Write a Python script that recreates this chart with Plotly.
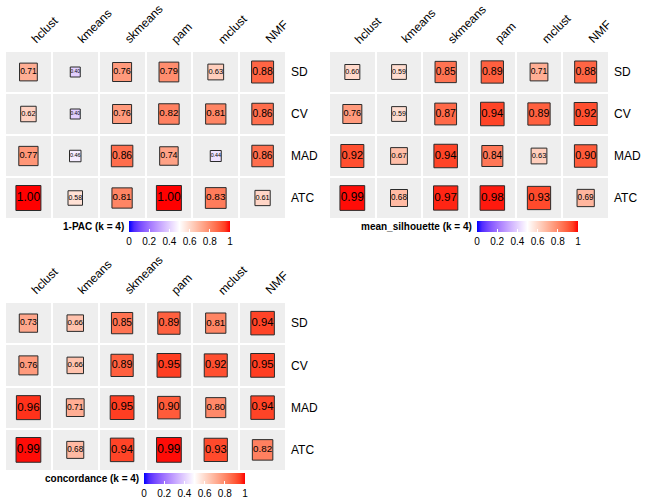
import plotly.graph_objects as go
import numpy as np

methods = ["hclust", "kmeans", "skmeans", "pam", "mclust", "NMF"]
features = ["SD", "CV", "MAD", "ATC"]

pac_values = [
    [0.71, 0.40, 0.76, 0.79, 0.63, 0.88],
    [0.62, 0.40, 0.76, 0.82, 0.81, 0.86],
    [0.77, 0.46, 0.86, 0.74, 0.44, 0.86],
    [1.00, 0.58, 0.81, 1.00, 0.83, 0.61],
]
silhouette_values = [
    [0.60, 0.59, 0.85, 0.89, 0.71, 0.88],
    [0.76, 0.59, 0.87, 0.94, 0.89, 0.92],
    [0.92, 0.67, 0.94, 0.84, 0.63, 0.90],
    [0.99, 0.68, 0.97, 0.98, 0.93, 0.69],
]
concordance_values = [
    [0.73, 0.66, 0.85, 0.89, 0.81, 0.94],
    [0.76, 0.66, 0.89, 0.95, 0.92, 0.95],
    [0.96, 0.71, 0.95, 0.90, 0.80, 0.94],
    [0.99, 0.68, 0.94, 0.99, 0.93, 0.82],
]
panel_titles = ["1-PAC (k = 4)", "mean_silhouette (k = 4)", "concordance (k = 4)"]
cbar_ticks = [0, 0.2, 0.4, 0.6, 0.8, 1]

W, H = 648, 504
FONT = "Liberation Sans, Arial, Helvetica, sans-serif"


# ---- LAB-interpolated blue-white-red colour scale ----
def srgb_to_lin(c):
    c = c / 255.0
    return np.where(c <= 0.04045, c / 12.92, ((c + 0.055) / 1.055) ** 2.4)


def lin_to_srgb(c):
    c = np.clip(c, 0, 1)
    return np.where(c <= 0.0031308, 12.92 * c, 1.055 * c ** (1 / 2.4) - 0.055) * 255


M = np.array([[0.4124, 0.3576, 0.1805], [0.2126, 0.7152, 0.0722], [0.0193, 0.1192, 0.9505]])
WP = np.array([0.95047, 1.0, 1.08883])


def rgb_to_lab(rgb):
    xyz = M @ srgb_to_lin(np.array(rgb, float)) / WP
    f = np.where(xyz > 0.008856, np.cbrt(xyz), 7.787 * xyz + 16 / 116)
    return np.array([116 * f[1] - 16, 500 * (f[0] - f[1]), 200 * (f[1] - f[2])])


def lab_to_rgb(lab):
    fy = (lab[0] + 16) / 116
    fx = fy + lab[1] / 500
    fz = fy - lab[2] / 200
    f = np.array([fx, fy, fz])
    xyz = np.where(f ** 3 > 0.008856, f ** 3, (f - 16 / 116) / 7.787) * WP
    return lin_to_srgb(np.linalg.inv(M) @ xyz)


blue, white, red = rgb_to_lab([0, 0, 255]), rgb_to_lab([255, 255, 255]), rgb_to_lab([255, 0, 0])
colorscale = []
for t in np.linspace(0, 1, 21):
    if t <= 0.5:
        lab = blue + (white - blue) * (t / 0.5)
    else:
        lab = white + (red - white) * ((t - 0.5) / 0.5)
    r, g, b = lab_to_rgb(lab)
    colorscale.append([float(t), f"rgb({int(round(r))},{int(round(g))},{int(round(b))})"])


def px(x):
    return x / W


def py(y):
    return 1 - y / H


# panel pixel geometry (screen px): (x0, x1, y0, y1), colorbar left x, colorbar top y
panels = [
    (pac_values, panel_titles[0], (5, 286, 51, 219), (129, 221)),
    (silhouette_values, panel_titles[1], (329, 609, 51, 219), (477, 221)),
    (concordance_values, panel_titles[2], (5, 286, 302, 471), (144, 473)),
]

fig = go.Figure()
layout = {}
annotations = []

for i, (vals, title, (x0, x1, y0, y1), (cbx, cby)) in enumerate(panels):
    k = "" if i == 0 else str(i + 1)
    xa, ya = "x" + k, "y" + k
    vals = np.array(vals)
    # gray background cells
    fig.add_trace(go.Heatmap(
        z=np.ones_like(vals), x=methods, y=features,
        colorscale=[[0, "#EEEEEE"], [1, "#EEEEEE"]], showscale=False,
        xgap=2, ygap=2, hoverinfo="skip", xaxis=xa, yaxis=ya,
    ))
    xs, ys, vs = [], [], []
    for r, f in enumerate(features):
        for c, m in enumerate(methods):
            xs.append(m)
            ys.append(f)
            vs.append(vals[r, c])
    vs = np.array(vs)
    fig.add_trace(go.Scatter(
        x=xs, y=ys, mode="markers+text",
        text=[f"{v:.2f}" for v in vs], textposition="middle center",
        textfont=dict(size=list(12 * vs), color="black", family=FONT),
        marker=dict(
            symbol="square", size=list(25 * vs), color=list(vs), opacity=1,
            colorscale=colorscale, cmin=0, cmax=1,
            line=dict(color="#2a2a2a", width=1),
            showscale=True,
            colorbar=dict(
                orientation="h", x=px(cbx), xanchor="left",
                y=py(cby), yanchor="top", yref="paper",
                len=101, lenmode="pixels", thickness=11,
                outlinewidth=0, xpad=0, ypad=0,
                tickvals=cbar_ticks, ticktext=[f"{t:g}" for t in cbar_ticks],
                ticks="inside", tickcolor="white", ticklen=3,
                tickfont=dict(size=10, family=FONT, color="black"),
            ),
        ),
        showlegend=False, hoverinfo="skip", xaxis=xa, yaxis=ya,
    ))
    layout["xaxis" + k] = dict(
        domain=[px(x0), px(x1)], anchor=ya, side="top",
        showgrid=False, zeroline=False, showline=False, ticks="",
        showticklabels=False, automargin=False,
        categoryorder="array", categoryarray=methods, range=[-0.5, 5.5],
        fixedrange=True,
    )
    layout["yaxis" + k] = dict(
        domain=[py(y1), py(y0)], anchor=xa, side="right",
        showgrid=False, zeroline=False, showline=False, ticks="",
        automargin=False, ticklabelstandoff=4,
        tickfont=dict(size=12, family=FONT, color="black"),
        categoryorder="array", categoryarray=features, range=[3.5, -0.5],
        fixedrange=True,
    )
    # rotated column labels
    for m in methods:
        annotations.append(dict(
            text=m, x=m, xref=xa, xanchor="left", xshift=-3,
            y=py(y0 - 2), yref="paper", yanchor="bottom",
            textangle=-45, showarrow=False,
            font=dict(size=12, family=FONT, color="black"),
        ))
    annotations.append(dict(
        text=f"<b>{title}</b>", x=px(cbx - 3), xanchor="right",
        y=py(cby + 5.5), yanchor="middle", xref="paper", yref="paper",
        showarrow=False, font=dict(size=10, family=FONT, color="black"),
    ))

fig.update_layout(
    width=W, height=H, margin=dict(l=0, r=0, t=0, b=0, autoexpand=False),
    paper_bgcolor="white", plot_bgcolor="white",
    annotations=annotations, **layout,
)
fig.write_html(
    "out.html",
    config={"displayModeBar": False},
    post_script="document.body.style.margin='0px';document.body.style.padding='0px';",
)
